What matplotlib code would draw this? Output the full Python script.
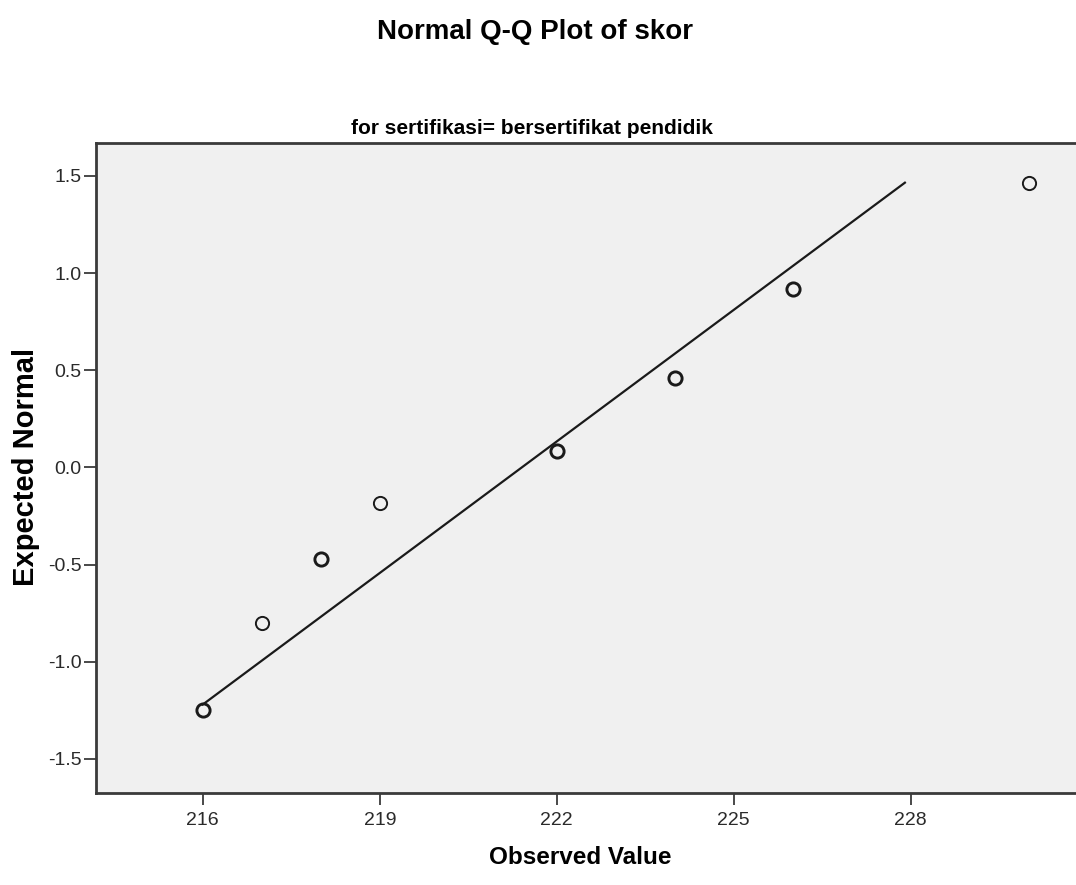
# Normal Q-Q plot of skor, sertifikasi group "bersertifikat pendidik"

import numpy as np
import matplotlib.pyplot as plt

plt.rcParams['font.family'] = ['Liberation Sans', 'DejaVu Sans']

# observed scores and their expected normal values
observed = [216, 217, 218, 219, 222, 224, 226, 230]
expected = [-1.25, -0.80, -0.47, -0.185, 0.085, 0.46, 0.92, 1.465]
# tied scores are plotted on top of each other, so they look heavier
n_obs = [2, 1, 2, 1, 2, 2, 2, 1]

# reference line ends
line_x = [216.0, 227.9]
line_y = [-1.22, 1.465]

x_ticks = [216, 219, 222, 225, 228]
y_ticks = [-1.5, -1.0, -0.5, 0.0, 0.5, 1.0, 1.5]

fig = plt.figure(figsize=(10.76, 8.85), dpi=100)
ax = fig.add_axes([0.0892, 0.104, 0.9108, 0.7346])
ax.set_facecolor('#F0F0F0')

ax.plot(line_x, line_y, color='#1a1a1a', lw=1.6, zorder=2)

for xv, yv, n in zip(observed, expected, n_obs):
    ax.plot(xv, yv, marker='o', ms=9.5, mfc='none', mec='#1a1a1a',
            mew=1.4 if n == 1 else 2.1, ls='none', zorder=3)

ax.set_xlim(214.19, 230.8)
ax.set_ylim(-1.675, 1.67)
ax.set_xticks(x_ticks)
ax.set_yticks(y_ticks)
ax.set_yticklabels([f'{v:.1f}' for v in y_ticks])

for s in ['left', 'bottom', 'top']:
    ax.spines[s].set_color('#3a3a3a')
    ax.spines[s].set_linewidth(2)
ax.spines['right'].set_visible(False)

ax.tick_params(direction='out', length=8.5, width=1.3, color='#3a3a3a',
               labelsize=14, labelcolor='#2a2a2a')
ax.tick_params(axis='x', pad=5)
ax.tick_params(axis='y', pad=2)

ax.set_xlabel('Observed Value', fontsize=17.5, fontweight='bold', va='center')
ax.set_ylabel('Expected Normal', fontsize=21, fontweight='bold', va='center')
ax.xaxis.set_label_coords(0.494, -0.1)
ax.yaxis.set_label_coords(-0.0715, 0.5015)

fig.text(0.497, 0.964, 'Normal Q-Q Plot of skor', ha='center', va='center',
         fontsize=20, fontweight='bold')
fig.text(0.4945, 0.855, 'for sertifikasi= bersertifikat pendidik', ha='center',
         va='center', fontsize=15, fontweight='bold')

fig.savefig('out.png', dpi=100)
